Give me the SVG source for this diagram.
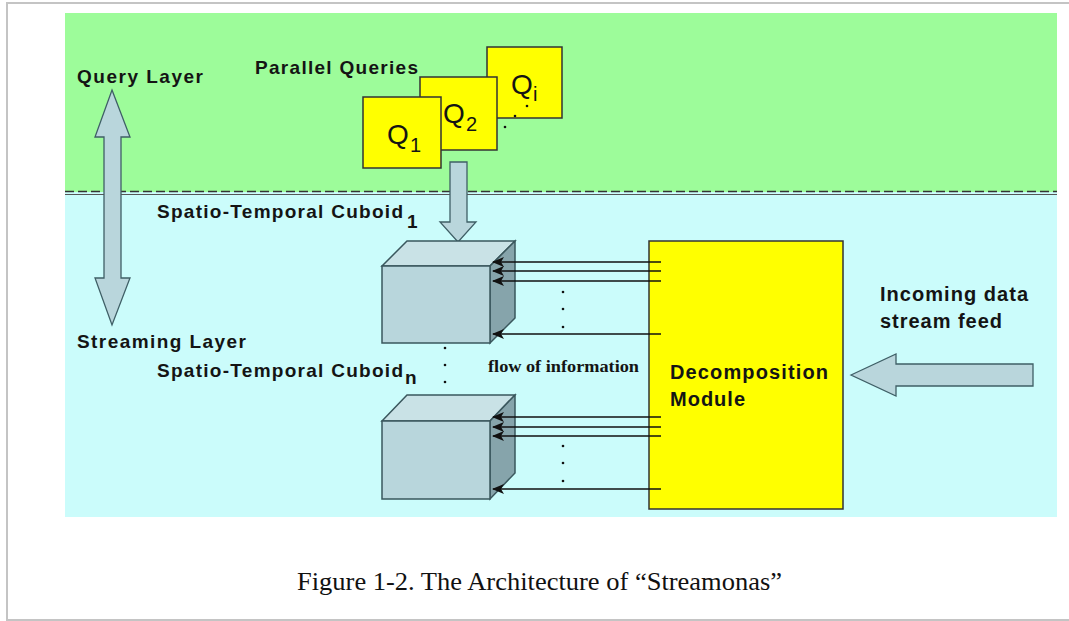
<svg xmlns="http://www.w3.org/2000/svg" width="1069" height="621" viewBox="0 0 1069 621">
<defs>
<style>
.lbl{font-family:"Liberation Sans",Arial,sans-serif;font-weight:bold;font-size:19px;fill:#141414}
.big{font-family:"Liberation Sans",Arial,sans-serif;font-weight:bold;font-size:20px;fill:#141414}
.q{font-family:"Liberation Sans",Arial,sans-serif;font-size:28px;fill:#141414}
.qs{font-family:"Liberation Sans",Arial,sans-serif;font-size:20px;fill:#141414}
.fat{fill:#b9d6dc;stroke:#3f5f66;stroke-width:1.3}
.qbox{fill:#ffff00;stroke:#333;stroke-width:1.5}
.front{fill:#b8d6dc;stroke:#3a575d;stroke-width:1.5}
.top{fill:#c9e2e6;stroke:#3a575d;stroke-width:1.5}
.side{fill:#86a4ab;stroke:#3a575d;stroke-width:1.5}
.flow{stroke:#111;stroke-width:1.5;fill:none;marker-end:url(#ah)}
.dot{fill:#111}
</style>
<marker id="ah" markerWidth="12" markerHeight="10" refX="11" refY="5" orient="auto" markerUnits="userSpaceOnUse">
<path d="M0,0 L12,5 L0,10 L3,5 Z" fill="#111"/>
</marker>
</defs>
<rect x="0" y="0" width="1069" height="621" fill="#ffffff"/>
<rect x="7" y="3" width="1070" height="617" fill="none" stroke="#c4c4c4" stroke-width="2"/>
<g id="layers">
<rect x="65" y="13" width="992" height="179" fill="#9dfc9a"/>
<rect x="65" y="192" width="992" height="325" fill="#cbfcfb"/>
<line x1="65" y1="191.5" x2="1057" y2="191.5" stroke="#333" stroke-width="1.3" stroke-dasharray="9 4"/>
<line x1="65" y1="194.5" x2="1057" y2="194.5" stroke="#555" stroke-width="1"/>
</g>
<g id="layer-labels">
<text class="lbl" x="77" y="83" textLength="126" lengthAdjust="spacing">Query Layer</text>
<text class="lbl" x="77" y="348" textLength="169" lengthAdjust="spacing">Streaming Layer</text>
</g>
<g id="layer-arrow">
<polygon class="fat" points="112,90 130,137 121,137 121,278 130,278 112,325 95,278 104,278 104,137 95,137"/>
</g>
<g id="queries">
<text class="lbl" x="255" y="74" textLength="163" lengthAdjust="spacing">Parallel Queries</text>
<g id="qi">
<rect class="qbox" x="487" y="47" width="75" height="71"/>
<text class="q" x="511" y="94">Q</text><text class="qs" x="533" y="101">i</text>
</g>
<g id="q2">
<rect class="qbox" x="420" y="77" width="77" height="73"/>
<text class="q" x="443" y="123">Q</text><text class="qs" x="466" y="131">2</text>
</g>
<g id="q1">
<rect class="qbox" x="363" y="97" width="78" height="71"/>
<text class="q" x="387" y="144">Q</text><text class="qs" x="410" y="152">1</text>
</g>
<circle class="dot" cx="527" cy="106" r="1.3"/>
<circle class="dot" cx="515" cy="116" r="1.3"/>
<circle class="dot" cx="505" cy="127" r="1.3"/>
</g>
<g id="query-arrow">
<polygon class="fat" points="450,162 467,162 467,222 476,222 458,242 440,222 450,222"/>
</g>
<g id="cuboid1">
<polygon class="top" points="382,266 407,241 515,241 490,266"/>
<polygon class="side" points="490,266 515,241 515,318 490,343"/>
<rect class="front" x="382" y="266" width="108" height="77"/>
<text class="lbl" x="157" y="218" textLength="246" lengthAdjust="spacing">Spatio-Temporal Cuboid</text>
<text class="lbl" x="407" y="228" font-size="16">1</text>
</g>
<g id="cuboidn">
<polygon class="top" points="382,421 407,395 515,395 490,421"/>
<polygon class="side" points="490,421 515,395 515,473 490,499"/>
<rect class="front" x="382" y="421" width="108" height="78"/>
<text class="lbl" x="157" y="377" textLength="246" lengthAdjust="spacing">Spatio-Temporal Cuboid</text>
<text class="lbl" x="405" y="384" font-size="20">n</text>
</g>
<g id="cuboid-dots">
<circle class="dot" cx="445" cy="348" r="1.3"/>
<circle class="dot" cx="445" cy="365" r="1.3"/>
<circle class="dot" cx="445" cy="382" r="1.3"/>
</g>
<g id="decomposition">
<rect x="649" y="241" width="194" height="268" fill="#ffff00" stroke="#333" stroke-width="1.5"/>
<text class="big" x="670" y="379" textLength="158" lengthAdjust="spacing">Decomposition</text>
<text class="big" x="670" y="406" textLength="75" lengthAdjust="spacing">Module</text>
</g>
<g id="input">
<text class="big" x="880" y="301" textLength="148" lengthAdjust="spacing">Incoming data</text>
<text class="big" x="880" y="328" textLength="122" lengthAdjust="spacing">stream feed</text>
<polygon class="fat" points="851,375 896,354 896,364 1033,364 1033,386 896,386 896,396"/>
</g>
<g id="connectors">
<line class="flow" x1="661" y1="262" x2="493" y2="262"/>
<line class="flow" x1="661" y1="271" x2="493" y2="271"/>
<line class="flow" x1="661" y1="281" x2="493" y2="281"/>
<line class="flow" x1="661" y1="334" x2="493" y2="334"/>
<line class="flow" x1="661" y1="417" x2="493" y2="417"/>
<line class="flow" x1="661" y1="427" x2="493" y2="427"/>
<line class="flow" x1="661" y1="436" x2="493" y2="436"/>
<line class="flow" x1="661" y1="489" x2="493" y2="489"/>
<circle class="dot" cx="563" cy="292" r="1.3"/>
<circle class="dot" cx="563" cy="309" r="1.3"/>
<circle class="dot" cx="563" cy="327" r="1.3"/>
<circle class="dot" cx="563" cy="446" r="1.3"/>
<circle class="dot" cx="563" cy="463" r="1.3"/>
<circle class="dot" cx="563" cy="481" r="1.3"/>
<text x="488" y="372" font-family="'Liberation Serif','Times New Roman',serif" font-weight="bold" font-size="17" fill="#141414" textLength="151" lengthAdjust="spacingAndGlyphs">flow of information</text>
</g>
<g id="caption">
<text x="297" y="590" font-family="'Liberation Serif','Times New Roman',serif" font-size="26" fill="#111" textLength="485" lengthAdjust="spacingAndGlyphs">Figure 1-2. The Architecture of “Streamonas”</text>
</g>
</svg>
